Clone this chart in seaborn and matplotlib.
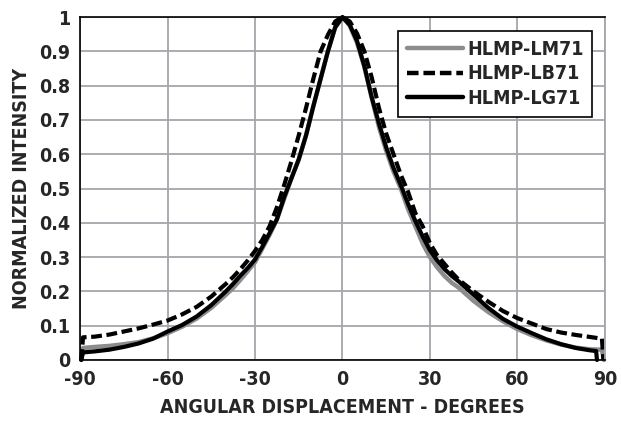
import numpy as np
import pandas as pd
import seaborn as sns
import matplotlib.pyplot as plt

# angles shared by the three curves (end points differ per series)
core_angle = [-85, -80, -75, -70, -65, -60, -55, -50, -45, -40, -37.5, -35, -32.5, -30, -27.5, -25, -22.5,
              -20, -17.5, -15, -12.5, -10, -7.5, -5, -2.5, 0, 2.5, 5, 7.5, 10, 12.5, 15, 17.5, 20, 22.5,
              25, 27.5, 30, 32.5, 35, 37.5, 40, 45, 50, 55, 60, 65, 70, 75, 80, 85]

# HLMP-LB71 (dashed)
lb_angle = [-89.6, -89] + core_angle + [89, 89.5]
lb_value = [0.0, 0.066,
            0.068, 0.074, 0.083, 0.092, 0.103, 0.115, 0.133, 0.155, 0.185, 0.222, 0.242, 0.265, 0.29, 0.318,
            0.35, 0.39, 0.445, 0.51, 0.58, 0.655, 0.735, 0.82, 0.9, 0.948, 0.987, 1.0, 0.987, 0.952, 0.9,
            0.825, 0.735, 0.66, 0.6, 0.54, 0.49, 0.428, 0.39, 0.34, 0.305, 0.28, 0.255, 0.233, 0.2, 0.17,
            0.143, 0.122, 0.106, 0.09, 0.08, 0.073, 0.067,
            0.062, 0.0]

# HLMP-LG71 (solid black)
lg_angle = [-89.6, -89] + core_angle + [87, 87.3]
lg_value = [0.0, 0.022,
            0.025, 0.03, 0.038, 0.048, 0.062, 0.083, 0.102, 0.127, 0.16, 0.2, 0.222, 0.246, 0.268, 0.293,
            0.33, 0.37, 0.41, 0.475, 0.53, 0.585, 0.655, 0.74, 0.82, 0.9, 0.97, 1.0, 0.977, 0.93, 0.857,
            0.767, 0.69, 0.62, 0.56, 0.51, 0.455, 0.405, 0.36, 0.32, 0.29, 0.265, 0.245, 0.228, 0.19, 0.152,
            0.12, 0.097, 0.078, 0.06, 0.046, 0.035, 0.028,
            0.026, 0.0]

# HLMP-LM71 (grey)
lm_angle = [-89.6, -89] + core_angle + [89, 89.7]
lm_value = [0.0, 0.035,
            0.038, 0.041, 0.046, 0.052, 0.063, 0.078, 0.097, 0.121, 0.152, 0.19, 0.21, 0.234, 0.259, 0.285,
            0.325, 0.365, 0.41, 0.47, 0.53, 0.585, 0.655, 0.74, 0.82, 0.9, 0.97, 1.0, 0.975, 0.925, 0.855,
            0.765, 0.68, 0.61, 0.55, 0.5, 0.44, 0.39, 0.34, 0.3, 0.27, 0.245, 0.225, 0.21, 0.172, 0.14,
            0.113, 0.09, 0.072, 0.057, 0.045, 0.036, 0.031,
            0.03, 0.0]

x_ticks = [-90, -60, -30, 0, 30, 60, 90]
y_ticks = [0, 0.1, 0.2, 0.3, 0.4, 0.5, 0.6, 0.7, 0.8, 0.9, 1]
y_labels = ["0", "0.1", "0.2", "0.3", "0.4", "0.5", "0.6", "0.7", "0.8", "0.9", "1"]

sns.set_style("white")
plt.rcParams["font.family"] = ["DejaVu Sans"]
plt.rcParams["font.stretch"] = "condensed"
plt.rcParams["font.weight"] = "bold"
plt.rcParams["axes.unicode_minus"] = False

fig, ax = plt.subplots(figsize=(6.21, 4.26), dpi=100)
fig.subplots_adjust(left=0.129, right=0.974, top=0.960, bottom=0.155)

sns.lineplot(x=lm_angle, y=lm_value, ax=ax, color="#8c8c8f", lw=3.2, label="HLMP-LM71",
             sort=False, estimator=None)
sns.lineplot(x=lb_angle, y=lb_value, ax=ax, color="black", lw=3.0, label="HLMP-LB71",
             sort=False, estimator=None)
ax.lines[-1].set_dashes([2.6, 1.1])
sns.lineplot(x=lg_angle, y=lg_value, ax=ax, color="black", lw=3.0, label="HLMP-LG71",
             sort=False, estimator=None)
for line in ax.lines:
    line.set_solid_joinstyle("round")
    line.set_clip_on(False)

ax.set_xlim(-90, 90)
ax.set_ylim(0, 1)
ax.set_xticks(x_ticks)
ax.set_yticks(y_ticks)
ax.set_yticklabels(y_labels)
ax.tick_params(axis="both", labelsize=14, length=4, width=1, color="black", pad=3)
ax.grid(True, color="#a4a6ab", lw=1.3)
ax.set_axisbelow(True)

for side in ["left", "bottom", "top"]:
    ax.spines[side].set_color("black")
    ax.spines[side].set_linewidth(1.2)
ax.spines["right"].set_color("#a4a6ab")
ax.spines["right"].set_linewidth(1.3)

ax.set_xlabel("ANGULAR DISPLACEMENT - DEGREES", fontsize=14, fontweight="bold", labelpad=7)
ax.set_ylabel("NORMALIZED INTENSITY", fontsize=14, fontweight="bold", labelpad=6)

leg = ax.legend(loc="upper right", bbox_to_anchor=(0.976, 0.96), fontsize=14, frameon=True,
                fancybox=False, edgecolor="black", framealpha=1, handlelength=2.9,
                handletextpad=0.2, borderpad=0.45, labelspacing=0.3, borderaxespad=0)
leg.get_frame().set_linewidth(1.2)
for line in leg.get_lines():
    line.set_linewidth(3.2)
leg.get_lines()[1].set_dashes([2.6, 1.1])

plt.savefig("out.png", dpi=100)
